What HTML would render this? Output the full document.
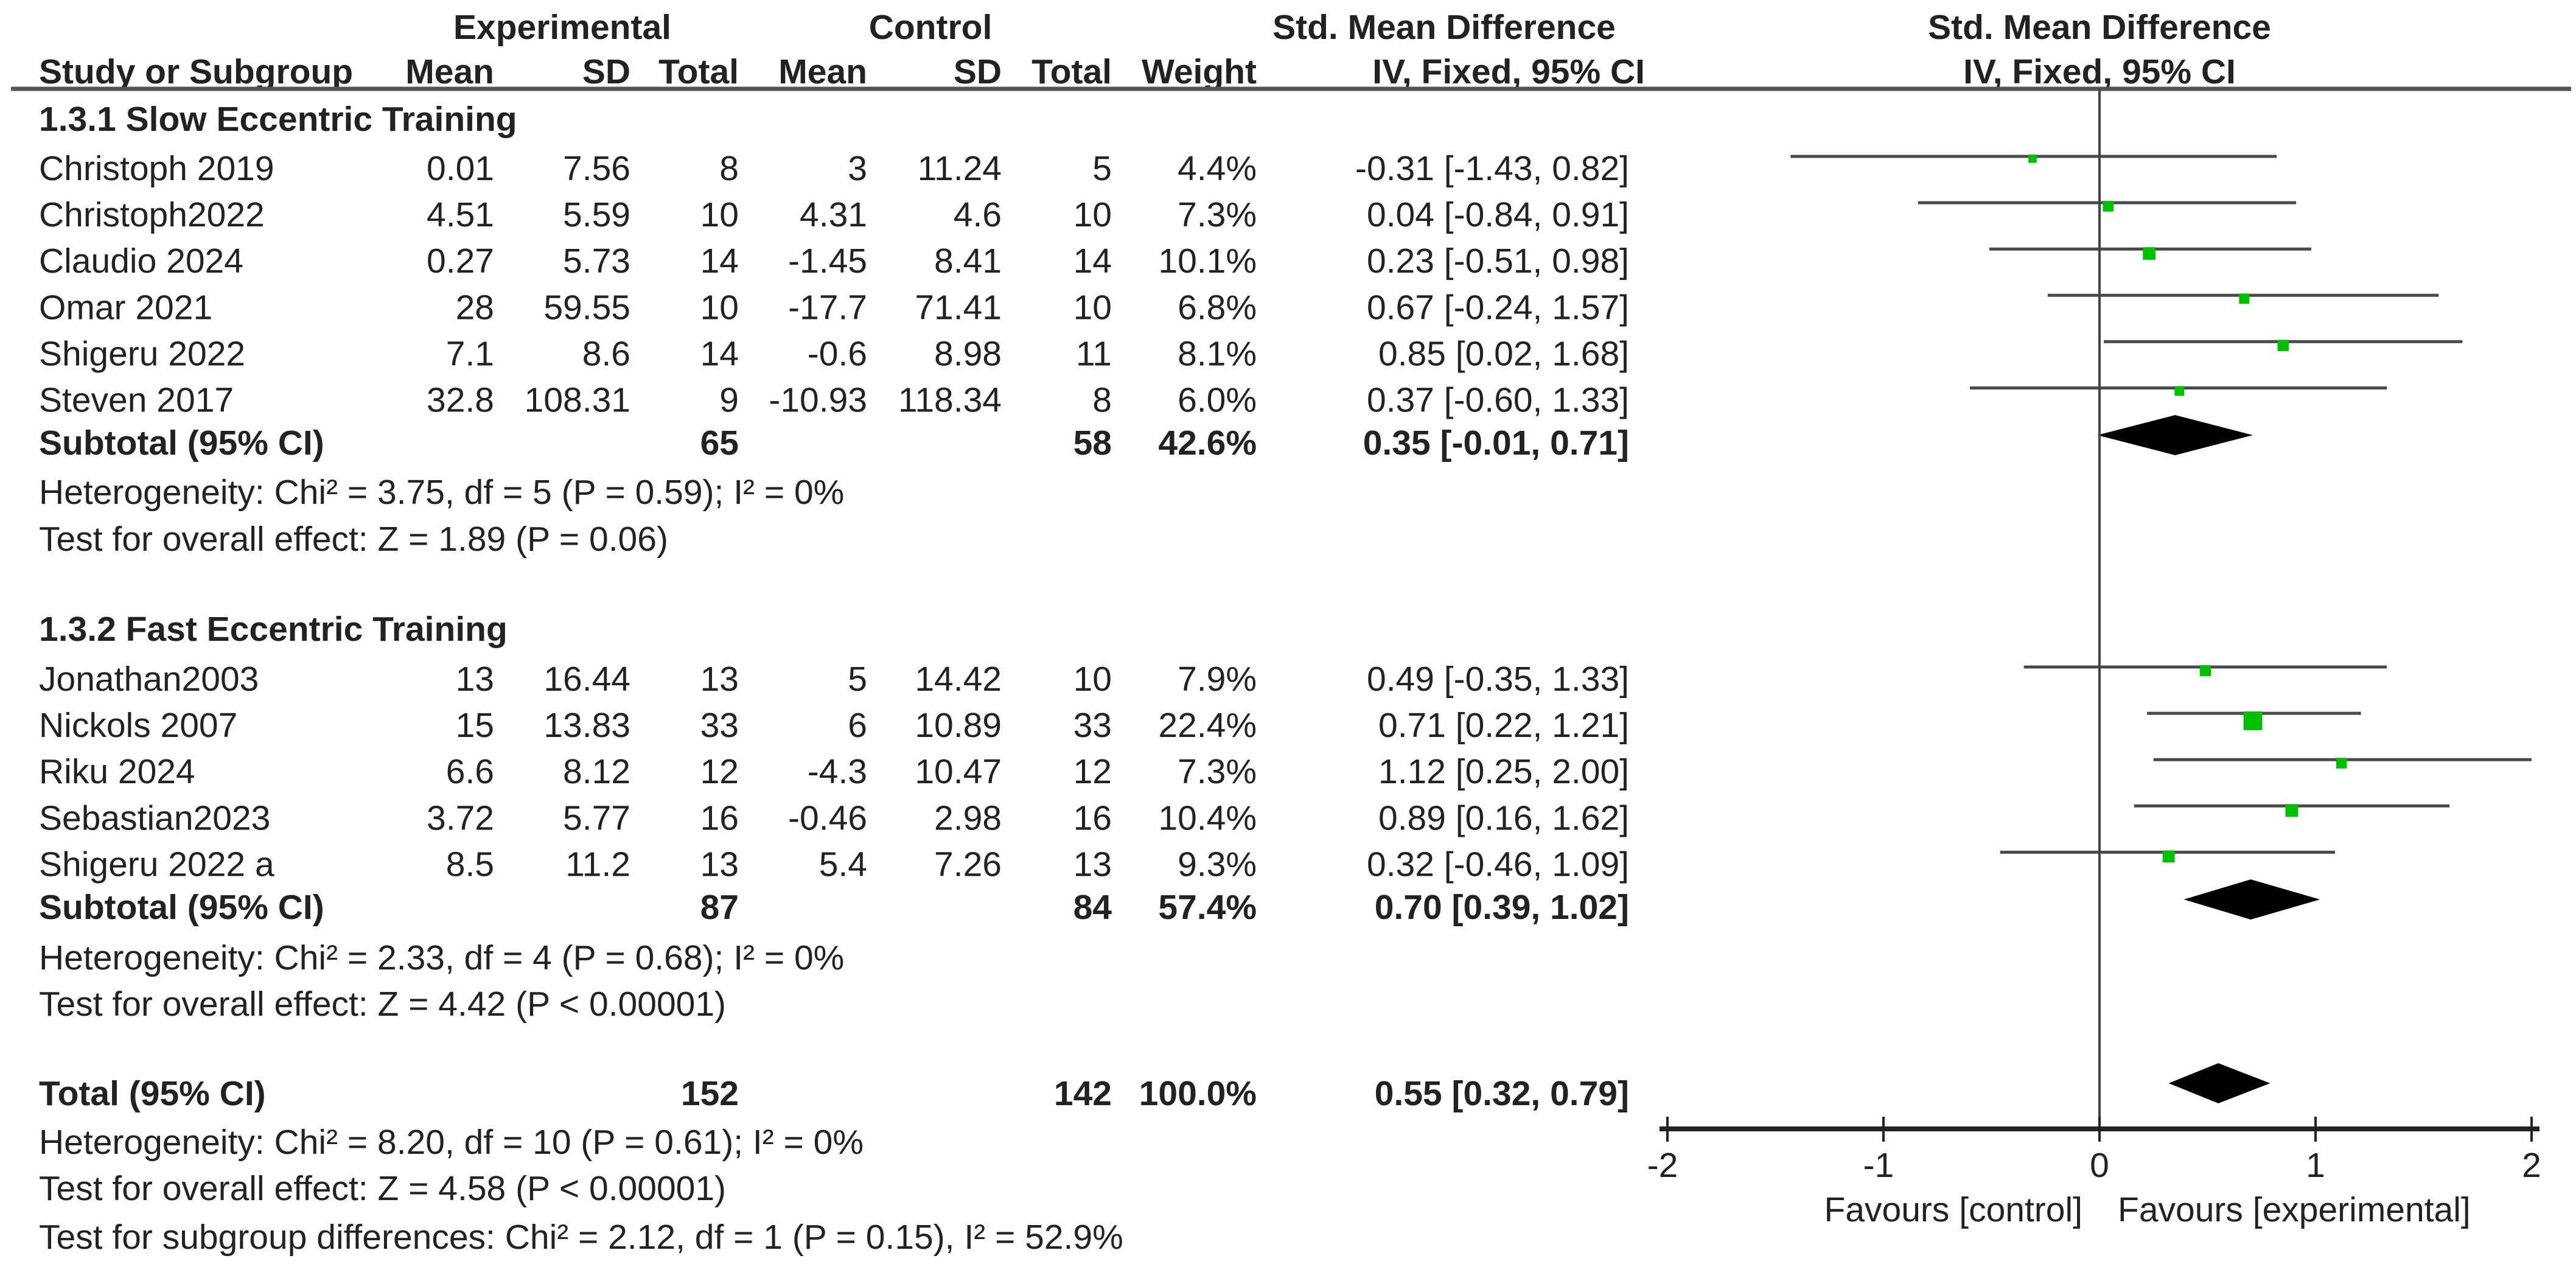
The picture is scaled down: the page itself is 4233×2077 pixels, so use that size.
<!DOCTYPE html>
<html><head><meta charset="utf-8"><style>
html,body{margin:0;padding:0;background:#fff;}
svg{display:block;font-family:"Liberation Sans",Arial,sans-serif;}
text{fill:#222;font-size:57px;dominant-baseline:central;}
.b{font-weight:bold;}
.r{text-anchor:end;}
.c{text-anchor:middle;}
</style></head><body>
<svg id="chart" width="4233" height="2077" viewBox="0 0 4233 2077" xmlns="http://www.w3.org/2000/svg">
<g>
<text class="b c" x="924" y="45">Experimental</text>
<text class="b c" x="1529" y="45">Control</text>
<text class="b c" x="2373" y="45">Std. Mean Difference</text>
<text class="b c" x="3450" y="45">Std. Mean Difference</text>
<text class="b" x="64" y="118">Study or Subgroup</text>
<text class="b r" x="812" y="118">Mean</text>
<text class="b r" x="1036" y="118">SD</text>
<text class="b r" x="1214" y="118">Total</text>
<text class="b r" x="1425" y="118">Mean</text>
<text class="b r" x="1646" y="118">SD</text>
<text class="b r" x="1827" y="118">Total</text>
<text class="b r" x="2065" y="118">Weight</text>
<text class="b r" x="2703" y="118">IV, Fixed, 95% CI</text>
<text class="b c" x="3450" y="118">IV, Fixed, 95% CI</text>
</g>
<line x1="18" y1="146" x2="4225" y2="146" stroke="#555" stroke-width="7"/>
<g id="table"></g>
<g id="plot"></g>
</svg>
<script>
const studies = ["Christoph 2019","Christoph2022","Claudio 2024","Omar 2021","Shigeru 2022","Steven 2017","Jonathan2003","Nickols 2007","Riku 2024","Sebastian2023","Shigeru 2022 a"];
const groupIdx = [0,0,0,0,0,0,1,1,1,1,1];
const expMean = ["0.01","4.51","0.27","28","7.1","32.8","13","15","6.6","3.72","8.5"];
const expSD = ["7.56","5.59","5.73","59.55","8.6","108.31","16.44","13.83","8.12","5.77","11.2"];
const expN = ["8","10","14","10","14","9","13","33","12","16","13"];
const ctlMean = ["3","4.31","-1.45","-17.7","-0.6","-10.93","5","6","-4.3","-0.46","5.4"];
const ctlSD = ["11.24","4.6","8.41","71.41","8.98","118.34","14.42","10.89","10.47","2.98","7.26"];
const ctlN = ["5","10","14","10","11","8","10","33","12","16","13"];
const weights = [4.4,7.3,10.1,6.8,8.1,6.0,7.9,22.4,7.3,10.4,9.3];
const est = [-0.31,0.04,0.23,0.67,0.85,0.37,0.49,0.71,1.12,0.89,0.32];
const lo = [-1.43,-0.84,-0.51,-0.24,0.02,-0.60,-0.35,0.22,0.25,0.16,-0.46];
const hi = [0.82,0.91,0.98,1.57,1.68,1.33,1.33,1.21,2.00,1.62,1.09];
const groupNames = ["1.3.1 Slow Eccentric Training","1.3.2 Fast Eccentric Training"];
const subExpN = ["65","87"], subCtlN = ["58","84"], subW = ["42.6%","57.4%"];
const subEst = [0.35,0.70], subLo = [-0.01,0.39], subHi = [0.71,1.02];
const subHet = ["Heterogeneity: Chi² = 3.75, df = 5 (P = 0.59); I² = 0%","Heterogeneity: Chi² = 2.33, df = 4 (P = 0.68); I² = 0%"];
const subTest = ["Test for overall effect: Z = 1.89 (P = 0.06)","Test for overall effect: Z = 4.42 (P < 0.00001)"];
const totEst = 0.55, totLo = 0.32, totHi = 0.79;
const ticks = [-2,-1,0,1,2];

const NS="http://www.w3.org/2000/svg";
const X0=3450, UNIT=355;
function xs(v){return X0+UNIT*v;}
function fmt(v){return v.toFixed(2);}
const tbl=document.getElementById('table'), plot=document.getElementById('plot');
function txt(parent,x,y,s,cls,name){const t=document.createElementNS(NS,'text');t.setAttribute('x',x);t.setAttribute('y',y);if(cls)t.setAttribute('class',cls);t.textContent=s;


parent.appendChild(t);return t;}
function el(parent,tag,attrs){const e=document.createElementNS(NS,tag);for(const k in attrs)e.setAttribute(k,attrs[k]);parent.appendChild(e);return e;}

const groupHeadY=[196,1034], firstRowY=[277,1116], rowStep=76.1;
const subY=[728,1491], hetY=[809,1574], testY=[886,1650];
let counters=[0,0];
function ciText(e,l,h){return fmt(e)+" ["+fmt(l)+", "+fmt(h)+"]";}
for(let g=0;g<2;g++){
  txt(tbl,64,groupHeadY[g],groupNames[g],'b','subgroup-title');
}
studies.forEach((s,i)=>{
  const g=groupIdx[i]; const y=firstRowY[g]+rowStep*(counters[g]++);
  txt(tbl,64,y,s,'','study-name');
  txt(tbl,812,y,expMean[i],'r','exp-mean');
  txt(tbl,1036,y,expSD[i],'r','exp-sd');
  txt(tbl,1214,y,expN[i],'r','exp-total');
  txt(tbl,1425,y,ctlMean[i],'r','ctl-mean');
  txt(tbl,1646,y,ctlSD[i],'r','ctl-sd');
  txt(tbl,1827,y,ctlN[i],'r','ctl-total');
  txt(tbl,2065,y,weights[i].toFixed(1)+"%",'r','weight');
  txt(tbl,2677,y,ciText(est[i],lo[i],hi[i]),'r','effect-ci');
  const ly=y-20;
  const ln=el(plot,'line',{x1:xs(lo[i]),x2:xs(hi[i]),y1:ly,y2:ly,stroke:'#4a4a4a','stroke-width':5});
  
  
  const sz=6.5*Math.sqrt(weights[i]);
  const sq=el(plot,'rect',{x:xs(est[i])-sz/2,y:ly-3,width:sz,height:sz,fill:'#00c000'});
  
  
});
function diamond(e,l,h,cy,name){
  const p=el(plot,'polygon',{points:`${xs(l)},${cy} ${xs(e)},${cy-33} ${xs(h)},${cy} ${xs(e)},${cy+33}`,fill:'#000'});
  
  
}
for(let g=0;g<2;g++){
  txt(tbl,64,subY[g],"Subtotal (95% CI)",'b','subtotal-label');
  txt(tbl,1214,subY[g],subExpN[g],'b r','subtotal-exp-total');
  txt(tbl,1827,subY[g],subCtlN[g],'b r','subtotal-ctl-total');
  txt(tbl,2065,subY[g],subW[g],'b r','subtotal-weight');
  txt(tbl,2677,subY[g],ciText(subEst[g],subLo[g],subHi[g]),'b r','subtotal-ci');
  txt(tbl,64,hetY[g],subHet[g],'','heterogeneity');
  txt(tbl,64,testY[g],subTest[g],'','overall-effect-test');
  diamond(subEst[g],subLo[g],subHi[g],subY[g]-13,'subtotal-diamond');
}
txt(tbl,64,1797,"Total (95% CI)",'b','total-label');
txt(tbl,1214,1797,"152",'b r','total-exp');
txt(tbl,1827,1797,"142",'b r','total-ctl');
txt(tbl,2065,1797,"100.0%",'b r','total-weight');
txt(tbl,2677,1797,ciText(totEst,totLo,totHi),'b r','total-ci');
txt(tbl,64,1877,"Heterogeneity: Chi² = 8.20, df = 10 (P = 0.61); I² = 0%",'','total-heterogeneity');
txt(tbl,64,1953,"Test for overall effect: Z = 4.58 (P < 0.00001)",'','total-effect-test');
txt(tbl,64,2033,"Test for subgroup differences: Chi² = 2.12, df = 1 (P = 0.15), I² = 52.9%",'','subgroup-differences');
diamond(totEst,totLo,totHi,1780,'total-diamond');

const zl=el(plot,'line',{x1:xs(0),x2:xs(0),y1:146,y2:1855,stroke:'#444','stroke-width':4});


const ax=el(plot,'line',{x1:xs(ticks[0])-13,x2:xs(ticks[ticks.length-1])+13,y1:1855,y2:1855,stroke:'#222','stroke-width':8});


ticks.forEach(t=>{
  const tk=el(plot,'line',{x1:xs(t),x2:xs(t),y1:1835,y2:1876,stroke:'#222','stroke-width':4});
  
  
  const lb=txt(plot,xs(t)+(t<0?-8:0),1915,String(t),'c','x-tick-label');
  lb.setAttribute('font-size','60');
});
const f1=txt(plot,3422,1988,"Favours [control]",'r','favours-control-label');
f1.setAttribute('fill','#555');
const f2=txt(plot,3480,1988,"Favours [experimental]",'','favours-experimental-label');
f2.setAttribute('fill','#555');
</script>
</body></html>
